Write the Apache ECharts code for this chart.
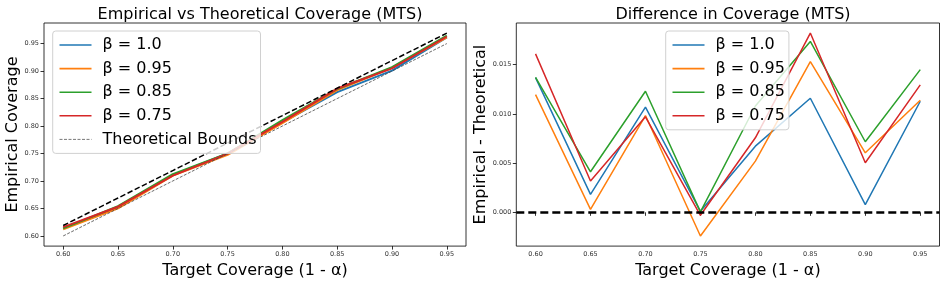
<!DOCTYPE html>
<html>
<head>
<meta charset="utf-8">
<script src="https://cdn.jsdelivr.net/npm/echarts@6/dist/echarts.min.js"></script>
<style>html,body{margin:0;padding:0;background:#fff;}#c{width:947px;height:284px;}</style>
</head>
<body>
<div id="c"></div>
<script>
// ---- data ----
const targets = [0.60, 0.65, 0.70, 0.75, 0.80, 0.85, 0.90, 0.95];
const betaNames = ['β = 1.0', 'β = 0.95', 'β = 0.85', 'β = 0.75'];
const boundsName = 'Theoretical Bounds';

// left panel: empirical coverage
const empB100 = [0.6137, 0.6518, 0.7107, 0.7501, 0.8067, 0.8616, 0.9008, 0.9613];
const empB095 = [0.6120, 0.6503, 0.7098, 0.7476, 0.8052, 0.8653, 0.9061, 0.9614];
const empB085 = [0.6137, 0.6541, 0.7123, 0.7500, 0.8108, 0.8674, 0.9072, 0.9645];
const empB075 = [0.6161, 0.6532, 0.7097, 0.7497, 0.8076, 0.8682, 0.9050, 0.9629];
const lowerBound = [0.60, 0.65, 0.70, 0.75, 0.80, 0.85, 0.90, 0.95];
const upperBound = [0.619, 0.669, 0.719, 0.769, 0.819, 0.869, 0.919, 0.969];

// right panel: empirical - theoretical
const diffB100 = [0.01368, 0.00182, 0.01068, 0.00010, 0.00672, 0.01159, 0.00078, 0.01128];
const diffB095 = [0.01195, 0.00030, 0.00983, -0.00240, 0.00520, 0.01530, 0.00605, 0.01138];
const diffB085 = [0.01370, 0.00412, 0.01230, 0.00005, 0.01080, 0.01736, 0.00717, 0.01449];
const diffB075 = [0.01609, 0.00318, 0.00970, -0.00030, 0.00757, 0.01821, 0.00504, 0.01294];

// tick labels
const xTicks = [0.60, 0.65, 0.70, 0.75, 0.80, 0.85, 0.90, 0.95];
const yTicksLeft = [0.60, 0.65, 0.70, 0.75, 0.80, 0.85, 0.90, 0.95];
const yTicksRight = [0.000, 0.005, 0.010, 0.015];

const colors = ['#1f77b4', '#ff7f0e', '#2ca02c', '#d62728'];
const FONT = 'DejaVu Sans';

const pairs = (xs, ys) => xs.map((x, i) => [x, ys[i]]);

function xAxisCfg(gridIndex) {
  return {
    type: 'value', gridIndex, min: 0.5825, max: 0.9675,
    name: 'Target Coverage (1 - α)', nameLocation: 'middle', nameGap: 14.5,
    nameTextStyle: { fontFamily: FONT, fontSize: 16, color: '#000' },
    splitLine: { show: false },
    axisLine: { show: false },
    axisTick: { show: true, customValues: xTicks, length: 3.5, lineStyle: { color: '#000', width: 0.8 } },
    axisLabel: { customValues: xTicks, formatter: v => v.toFixed(2), fontFamily: FONT, fontSize: 6.5, color: '#333', margin: 5 }
  };
}
function yAxisCfg(gridIndex, min, max, ticks, name, gap, dec) {
  return {
    type: 'value', gridIndex, min, max,
    name, nameLocation: 'middle', nameGap: gap,
    nameTextStyle: { fontFamily: FONT, fontSize: 16, color: '#000' },
    splitLine: { show: false },
    axisLine: { show: false },
    axisTick: { show: true, customValues: ticks, length: 3.5, lineStyle: { color: '#000', width: 0.8 } },
    axisLabel: { customValues: ticks, formatter: v => v.toFixed(dec), fontFamily: FONT, fontSize: 6.5, color: '#333', margin: 5 }
  };
}

const leftEmp = [empB100, empB095, empB085, empB075];
const rightDiff = [diffB100, diffB095, diffB085, diffB075];

const series = [];
leftEmp.forEach((arr, i) => series.push({
  type: 'line', name: betaNames[i], xAxisIndex: 0, yAxisIndex: 0,
  data: pairs(targets, arr), symbol: 'none', color: colors[i],
  lineStyle: { width: 2, color: colors[i] }
}));
series.push({
  type: 'line', name: boundsName, xAxisIndex: 0, yAxisIndex: 0,
  data: pairs(targets, lowerBound), symbol: 'none', color: '#444',
  lineStyle: { width: 0.8, color: '#444', type: [3, 1.5] }
});
series.push({
  type: 'line', name: '_upper', xAxisIndex: 0, yAxisIndex: 0,
  data: pairs(targets, upperBound), symbol: 'none', color: '#000',
  lineStyle: { width: 1.5, color: '#000', type: [5.5, 2.5] }
});
rightDiff.forEach((arr, i) => series.push({
  type: 'line', name: betaNames[i], xAxisIndex: 1, yAxisIndex: 1,
  data: pairs(targets, arr), symbol: 'none', color: colors[i],
  lineStyle: { width: 1.5, color: colors[i] },
  markLine: i === 0 ? {
    silent: true, symbol: 'none', label: { show: false },
    lineStyle: { color: '#000', width: 2.5, type: [8, 4] },
    data: [{ yAxis: 0 }]
  } : undefined
}));

const legendBase = {
  orient: 'vertical', itemWidth: 32, itemHeight: 14, itemGap: 7.6,
  padding: [6, 4, 6, 6], borderColor: '#d0d0d0', borderWidth: 1, borderRadius: 3,
  backgroundColor: 'rgba(255,255,255,0.8)',
  itemStyle: { opacity: 0, borderWidth: 0 },
  lineStyle: { width: 1.6 },
  textStyle: { fontFamily: FONT, fontSize: 16, color: '#000', padding: [0, 0, 0, 6] }
};

const leftLegendData = betaNames.map(n => ({ name: n })).concat([
  { name: boundsName, lineStyle: { width: 0.8, color: '#555', type: [3, 1.5] } }
]);

const chart = echarts.init(document.getElementById('c'), null, { renderer: 'canvas' });
chart.setOption({
  animation: false,
  backgroundColor: '#fff',
  title: [
    { text: 'Empirical vs Theoretical Coverage (MTS)', left: 255, top: 2, textAlign: 'center',
      textStyle: { fontFamily: FONT, fontSize: 16, fontWeight: 'normal', color: '#000' } },
    { text: 'Difference in Coverage (MTS)', left: 728, top: 2, textAlign: 'center',
      textStyle: { fontFamily: FONT, fontSize: 16, fontWeight: 'normal', color: '#000' } }
  ],
  grid: [
    { left: 44, top: 23, width: 422, height: 224.5, show: true, borderColor: '#000', borderWidth: 0.8, backgroundColor: 'transparent' },
    { left: 516.3, top: 23, width: 423.2, height: 224.5, show: true, borderColor: '#000', borderWidth: 0.8, backgroundColor: 'transparent' }
  ],
  xAxis: [xAxisCfg(0), xAxisCfg(1)],
  yAxis: [
    yAxisCfg(0, 0.58155, 0.98745, yTicksLeft, 'Empirical Coverage', 21, 2),
    yAxisCfg(1, -0.00343, 0.01923, yTicksRight, 'Empirical - Theoretical', 26, 3)
  ],
  legend: [
    Object.assign({}, legendBase, { left: 52.7, top: 31, data: leftLegendData }),
    Object.assign({}, legendBase, { left: 665.7, top: 31, data: betaNames.slice() })
  ],
  series
});
</script>
</body>
</html>
